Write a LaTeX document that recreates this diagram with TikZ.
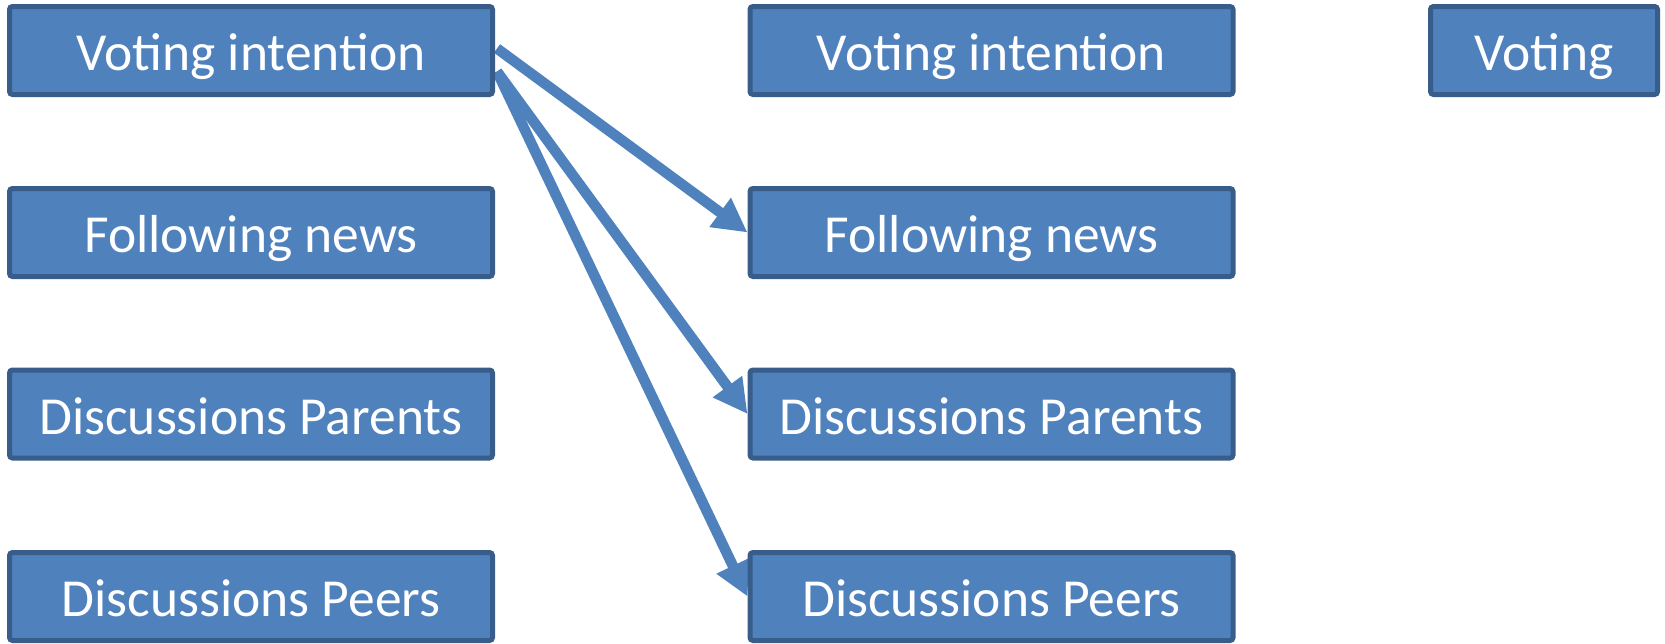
\documentclass[tikz,border=0pt]{standalone}
\usepackage{fontspec}
\setmainfont{Carlito}
\usetikzlibrary{arrows.meta,backgrounds,calc}
\definecolor{boxfill}{HTML}{4F81BD}
\definecolor{boxline}{HTML}{385D8A}
\tikzset{
  box/.style={draw=boxline, fill=boxfill, line width=5pt, rounded corners=3pt,
    minimum height=88pt, inner sep=0pt, text=white, text height=40pt, text depth=0pt,
    font=\fontsize{53.5}{58}\selectfont},
  wide/.style={minimum width=483pt},
  narrow/.style={minimum width=227pt},
  conn/.style={draw=boxfill, line width=10.5pt,
    -{Triangle[length=34pt,width=34pt]}}
}
\begin{document}
\begin{tikzpicture}[x=1pt,y=-1pt]
\useasboundingbox (0,0) rectangle (1665,643);
\node[box,wide] (l1) at (251,50.5) {Voting intention};
\node[box,wide] (l2) at (251,232.5) {Following news};
\node[box,wide] (l3) at (251,414) {Discussions Parents};
\node[box,wide] (l4) at (251,596.5) {Discussions Peers};
\node[box,wide] (m1) at (991.5,50.5) {Voting intention};
\node[box,wide] (m2) at (991.5,232.5) {Following news};
\node[box,wide] (m3) at (991.5,414) {Discussions Parents};
\node[box,wide] (m4) at (991.5,596.5) {Discussions Peers};
\node[box,narrow] (r1) at (1544,50.5) {Voting};
\coordinate (s1) at ($(l1.east)+(2,-2)$);
\coordinate (s2) at ($(l1.east)+(2,21)$);
\begin{pgfonlayer}{background}
\draw[conn] (s1) -- (m2.west);
\draw[conn] (s2) -- (m3.west);
\draw[conn] (s2) -- (m4.west);
\end{pgfonlayer}
\end{tikzpicture}
\end{document}
